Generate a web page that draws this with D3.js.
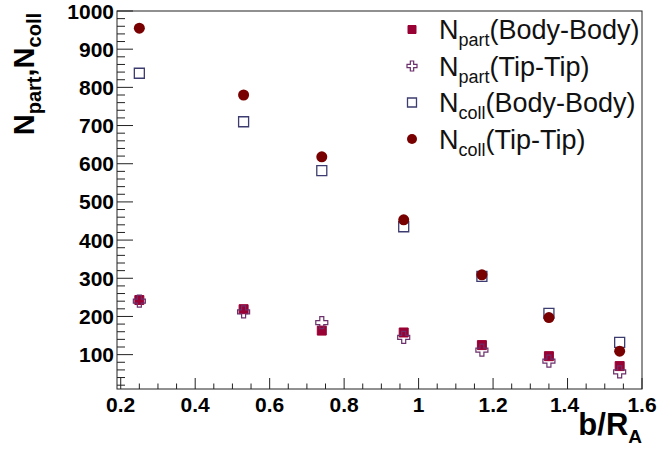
<!DOCTYPE html>
<html>
<head>
<meta charset="utf-8">
<script src="https://cdn.jsdelivr.net/npm/d3@7"></script>
<style>
  body { margin: 0; background: #fff; }
  text { font-family: "Liberation Sans", Arial, Helvetica, sans-serif; }
</style>
</head>
<body>
<script>
const wSvg = 658;
const hSvg = 450;

// b/R_A values
const bValues = [0.25, 0.53, 0.74, 0.96, 1.17, 1.35, 1.54];
const nPartBody = [243, 219, 163, 158, 125, 96, 70];
const nPartTip = [240, 212, 184, 145, 112, 83, 55];
const nCollBody = [837, 710, 582, 435, 305, 208, 132];
const nCollTip = [955, 780, 618, 453, 309, 197, 109];

const xTicks = [0.2, 0.4, 0.6, 0.8, 1, 1.2, 1.4, 1.6];
const yTicks = [100, 200, 300, 400, 500, 600, 700, 800, 900, 1000];

const frameL = 117, frameR = 642, frameT = 11, frameB = 389;

const xScale = d3.scaleLinear([0.19, 1.6], [frameL, frameR]);
const yScale = d3.scaleLinear([10, 1000], [frameB, frameT]);

const svg = d3.select("body").append("svg")
  .attr("width", wSvg)
  .attr("height", hSvg);

// frame
svg.append("rect")
  .attr("x", frameL).attr("y", frameT)
  .attr("width", frameR - frameL).attr("height", frameB - frameT)
  .attr("fill", "none").attr("stroke", "#222").attr("stroke-width", 1);

// x axis ticks (inside, pointing up)
const xMinor = d3.range(0.2, 1.6001, 0.05).map(d => +d.toFixed(2));
const xAxisG = svg.append("g");
xAxisG.selectAll("line")
  .data(xMinor)
  .enter().append("line")
  .attr("x1", d => xScale(d)).attr("x2", d => xScale(d))
  .attr("y1", frameB)
  .attr("y2", d => frameB - (xTicks.some(t => Math.abs(t - d) < 1e-6) ? 11 : 5.5))
  .attr("stroke", "#222");
xAxisG.selectAll("text")
  .data(xTicks)
  .enter().append("text")
  .attr("x", d => xScale(d) - (d === 1.4 ? 3 : 0))
  .attr("y", 412)
  .attr("text-anchor", "middle")
  .attr("font-size", "21px")
  .attr("font-weight", "bold")
  .text(d => d);

// y axis ticks (inside, pointing right)
const yMinor = d3.range(20, 1001, 20);
const yAxisG = svg.append("g");
yAxisG.selectAll("line")
  .data(yMinor)
  .enter().append("line")
  .attr("x1", frameL)
  .attr("x2", d => frameL + (d % 100 === 0 ? 16 : 8))
  .attr("y1", d => yScale(d)).attr("y2", d => yScale(d))
  .attr("stroke", "#222");
yAxisG.selectAll("text")
  .data(yTicks)
  .enter().append("text")
  .attr("x", 114)
  .attr("y", d => yScale(d) + 7.5)
  .attr("text-anchor", "end")
  .attr("font-size", "21px")
  .attr("font-weight", "bold")
  .text(d => d);

// axis titles
const xTitle = svg.append("text")
  .attr("x", 642).attr("y", 435)
  .attr("text-anchor", "end")
  .attr("font-size", "31px")
  .attr("font-weight", "bold");
xTitle.append("tspan").text("b/R");
xTitle.append("tspan").attr("font-size", "19px").attr("dy", 8).text("A");

const yTitle = svg.append("text")
  .attr("transform", "translate(34, 13) rotate(-90)")
  .attr("text-anchor", "end")
  .attr("font-size", "29px")
  .attr("font-weight", "bold");
yTitle.append("tspan").text("N");
yTitle.append("tspan").attr("font-size", "20px").attr("dy", 7).text("part");
yTitle.append("tspan").attr("dy", -7).text(",N");
yTitle.append("tspan").attr("font-size", "20px").attr("dy", 7).text("coll");

// marker shapes
function squarePath(s) {
  return `M${-s},${-s}H${s}V${s}H${-s}Z`;
}
function crossPath(s) {
  const a = s / 3;
  return `M${-a},${-s}H${a}V${-a}H${s}V${a}H${a}V${s}H${-a}V${a}H${-s}V${-a}H${-a}Z`;
}

const series = [
  { name: "part", label: "(Body-Body)", values: nPartBody, path: squarePath(4.5), legPath: squarePath(4), fill: "#990033", stroke: "#990033", sw: 1 },
  { name: "part", label: "(Tip-Tip)", values: nPartTip, path: crossPath(6), legPath: crossPath(5), fill: "none", stroke: "#6b2f6b", sw: 1.2 },
  { name: "coll", label: "(Body-Body)", values: nCollBody, path: squarePath(5), legPath: squarePath(4.5), fill: "none", stroke: "#3c3c70", sw: 1.3 },
  { name: "coll", label: "(Tip-Tip)", values: nCollTip, path: null, legPath: null, fill: "#780000", stroke: "#780000", sw: 1 }
];

function drawMarker(g, s, path, r) {
  if (path) {
    g.append("path").attr("d", path)
      .attr("fill", s.fill).attr("stroke", s.stroke).attr("stroke-width", s.sw);
  } else {
    g.append("circle").attr("r", r).attr("fill", s.fill);
  }
}

for (let s of series) {
  const g = svg.append("g");
  g.selectAll("g")
    .data(s.values)
    .enter().append("g")
    .attr("transform", (d, i) => `translate(${xScale(bValues[i])}, ${yScale(d)})`)
    .each(function() { drawMarker(d3.select(this), s, s.path, 5.5); });
}

// legend
const legend = svg.append("g");
series.forEach((s, i) => {
  const cy = 29.5 + i * 36.5;
  const mg = legend.append("g").attr("transform", `translate(412, ${cy})`);
  drawMarker(mg, s, s.legPath, 5);
  const t = legend.append("text")
    .attr("x", 439).attr("y", cy + 9.5)
    .attr("font-size", "27px")
    .attr("fill", "#111");
  t.append("tspan").text("N");
  t.append("tspan").attr("font-size", "18px").attr("dy", 7).text(s.name);
  t.append("tspan").attr("dy", -7).text(s.label);
});
</script>
</body>
</html>
